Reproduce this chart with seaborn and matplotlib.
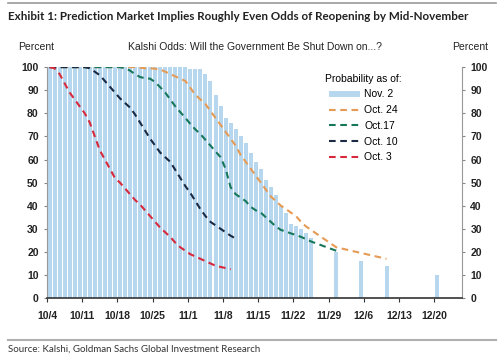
import numpy as np
import pandas as pd
import matplotlib
matplotlib.use("Agg")
import matplotlib.pyplot as plt
import seaborn as sns

START = pd.Timestamp("2025-10-04")

# Nov. 2 snapshot (bars): daily 10/4 - 11/25, then a few later contract dates
bar_dates = list(pd.date_range("2025-10-04", "2025-11-25")) + [
    pd.Timestamp("2025-11-30"), pd.Timestamp("2025-12-05"),
    pd.Timestamp("2025-12-10"), pd.Timestamp("2025-12-20")]
nov2 = [100] * 28 + [99, 99, 99, 97, 94, 88, 83, 78, 76, 73, 70, 67, 63, 59, 56, 51,
                     48, 44.5, 40, 37, 32, 31, 30, 28, 26] + [20, 16, 14, 10]

# Oct. 24 snapshot
oct24_dates = list(pd.date_range("2025-10-04", "2025-11-25")) + [
    pd.Timestamp("2025-11-30"), pd.Timestamp("2025-12-05"), pd.Timestamp("2025-12-10")]
oct24 = [100] * 18 + [99.8, 99.5, 99.5, 99.3, 99, 98, 97, 96, 95, 94, 91, 88, 86, 84, 81,
                      78, 75, 72, 69, 66, 62, 59, 56, 53, 50, 47, 44, 42, 40, 38.5, 37,
                      35.5, 33, 31, 29.5] + [22, 19.5, 17]

# Oct. 17 snapshot
oct17_dates = list(pd.date_range("2025-10-04", "2025-11-25")) + [pd.Timestamp("2025-11-30")]
oct17 = [100] * 15 + [99.5, 98.5, 97, 95.7, 95.2, 95, 93.5, 91.3, 89, 86, 83, 80.5, 78,
                      75.4, 73, 71, 68.5, 66, 63.5, 61, 56, 48, 45, 43.5, 42, 39.5, 38,
                      37, 35, 33, 31, 29.5, 28.8, 28, 27.3, 26.5, 25.5, 24.5] + [20.5]

# Oct. 10 snapshot
oct10_dates = list(pd.date_range("2025-10-04", "2025-11-10"))
oct10 = [100] * 8 + [99.5, 98, 96.5, 94, 91.5, 89, 86.5, 84.5, 82.5, 79.5, 76, 72.5, 69,
                     66, 63, 61, 59, 55.5, 52, 48.5, 45.5, 42, 38.5, 35.5, 33, 31.5, 30,
                     28.5, 27, 25.8]

# Oct. 3 snapshot
oct3_dates = list(pd.date_range("2025-10-04", "2025-11-09"))
oct3 = [100, 99.5, 97, 93, 89, 86, 83, 80, 76, 70, 64, 60, 56, 52, 50, 47.5, 45, 42.5,
        40.5, 38, 35.5, 33, 30.5, 28.5, 26.5, 24, 22, 20.5, 19, 18, 17, 16, 15, 14, 13.5,
        13, 12.5]

tick_dates = pd.date_range("2025-10-04", "2025-12-20", freq="7D")

series = [
    ("Oct. 24", oct24_dates, oct24, "#E59B55"),
    ("Oct.17", oct17_dates, oct17, "#17775A"),
    ("Oct. 10", oct10_dates, oct10, "#1B2A44"),
    ("Oct. 3", oct3_dates, oct3, "#D62A3C"),
]


def day_num(dates):
    # centre of each calendar day, days since 10/4
    return np.array([(d - START).days for d in dates]) + 0.5


plt.rcParams["font.family"] = ["Liberation Sans", "DejaVu Sans"]
fig = plt.figure(figsize=(5.0, 3.57), dpi=100)
ax = fig.add_axes([0.094, 0.165, 0.830, 0.647])

bars = pd.DataFrame({"day": day_num(bar_dates), "prob": nov2})
sns.barplot(data=bars, x="day", y="prob", native_scale=True, color="#B7D7EE",
            saturation=1, width=0.8, ax=ax, label="Nov. 2", linewidth=0)

for name, dates, vals, col in series:
    df = pd.DataFrame({"day": day_num(dates), "prob": vals})
    sns.lineplot(data=df, x="day", y="prob", color=col, lw=1.5,
                 linestyle=(0, (3.2, 2.2)), ax=ax, label=name)

ax.set_xlim(0, 82.5)
ax.set_ylim(0, 100)
ax.set_xlabel("")
ax.set_ylabel("")
ax.set_xticks([(d - START).days for d in tick_dates])
ax.set_xticklabels([f"{d.month}/{d.day}" for d in tick_dates], fontsize=7.5,
                   fontweight="bold", color="#222222")
ax.set_yticks(range(0, 101, 10))
ax.tick_params(axis="y", labelsize=7.5, length=2, color="#888888", labelcolor="#222222",
               pad=4, labelright=True, right=True)
for lab in ax.get_yticklabels():
    lab.set_fontweight("bold")
ax.tick_params(axis="x", length=3, color="#333333", pad=6)
ax.spines["top"].set_visible(False)
ax.spines["left"].set_color("#999999")
ax.spines["right"].set_color("#999999")
ax.spines["bottom"].set_color("#333333")
ax.spines["bottom"].set_linewidth(1.2)
ax.grid(False)

# bars first in the legend, then the snapshots newest to oldest
handles, labels = ax.get_legend_handles_labels()
order = [labels.index(n) for n in ["Nov. 2", "Oct. 24", "Oct.17", "Oct. 10", "Oct. 3"]]
leg = ax.legend([handles[i] for i in order], [labels[i] for i in order],
                title="Probability as of:", loc="upper left",
                bbox_to_anchor=(0.66, 0.99), frameon=False, fontsize=7.5,
                title_fontsize=7.5, handlelength=3.0, handleheight=0.5,
                labelspacing=0.55, handletextpad=0.4, borderaxespad=0)
leg._legend_box.align = "center"

# header / footer
fig.add_artist(plt.Line2D([0.016, 0.992], [0.992, 0.992], color="#9a9a9a", lw=1.2))
fig.text(0.016, 0.955, "Exhibit 1: Prediction Market Implies Roughly Even Odds of Reopening by Mid-November",
         fontsize=8.4, fontweight="bold", family=["Lato", "DejaVu Sans"], color="#222222",
         va="center", ha="left")
fig.text(0.036, 0.868, "Percent", fontsize=7.5, va="center", ha="left", color="#222222")
fig.text(0.509, 0.868, "Kalshi Odds: Will the Government Be Shut Down on...?", fontsize=7.5,
         va="center", ha="center", color="#222222")
fig.text(0.904, 0.868, "Percent", fontsize=7.5, va="center", ha="left", color="#222222")
fig.add_artist(plt.Line2D([0.016, 0.992], [0.048, 0.048], color="#b0b0b0", lw=1.5))
fig.text(0.016, 0.021, "Source: Kalshi, Goldman Sachs Global Investment Research",
         fontsize=7, family=["Lato", "DejaVu Sans"], va="center", ha="left", color="#333333")

fig.savefig("out.png", dpi=100)
